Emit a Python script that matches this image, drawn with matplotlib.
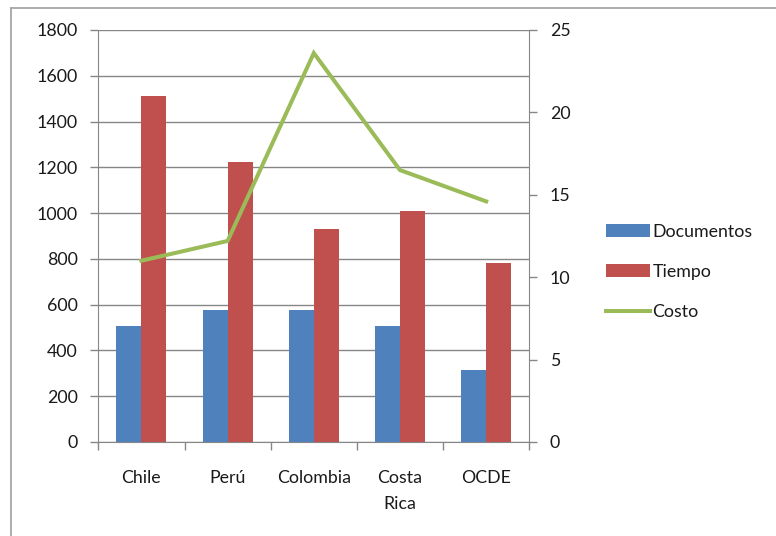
import matplotlib
matplotlib.use('Agg')
import matplotlib.pyplot as plt
from matplotlib.lines import Line2D
from matplotlib.patches import Patch
import numpy as np

plt.rcParams['font.family'] = ['Lato', 'DejaVu Sans']

paises = ['Chile', 'Perú', 'Colombia', 'Costa\nRica', 'OCDE']
documentos = [505, 576, 576, 505, 313]
tiempo = [1513, 1222, 932, 1009, 781]
costo = [11.0, 12.2, 23.6, 16.5, 14.6]

AZUL = '#4F81BD'
ROJO = '#C0504D'
VERDE = '#9BBB59'
GRIS = '#868686'
TEXTO = '#1a1a1a'
FS = 12.8

fig = plt.figure(figsize=(7.76, 5.36), dpi=100)
ax = fig.add_axes([98.3 / 776, 1 - 442 / 536, 431 / 776, 412 / 536])
ax2 = ax.twinx()

x = np.arange(len(paises))
w = 0.29
ax.bar(x - w / 2, documentos, w, color=AZUL, zorder=2)
ax.bar(x + w / 2, tiempo, w, color=ROJO, zorder=2)
ax2.plot(x, costo, color=VERDE, lw=2.9, solid_joinstyle='miter', zorder=3)

# eje izquierdo
ax.set_ylim(0, 1800)
ax.set_yticks(np.arange(0, 1801, 200))
ax.set_xlim(-0.5, 4.5)
ax.grid(axis='y', color=GRIS, lw=1.0)
ax.set_axisbelow(True)
ax.tick_params(axis='y', length=5.8, width=1, color=GRIS, pad=9,
               labelsize=FS, labelcolor=TEXTO)

# categorias: marcas en los limites, etiquetas al centro
ax.set_xticks(np.arange(-0.5, 5, 1))
ax.set_xticklabels([])
ax.set_xticks(x, minor=True)
ax.set_xticklabels(paises, minor=True, fontsize=FS, color=TEXTO,
                   linespacing=1.75, va='top')
ax.tick_params(axis='x', which='major', length=5.5, width=1, color=GRIS)
ax.tick_params(axis='x', which='minor', length=0, pad=20)

# eje derecho
ax2.set_ylim(0, 25)
ax2.set_yticks(np.arange(0, 26, 5))
ax2.tick_params(axis='y', length=5.8, width=1, color=GRIS, pad=9,
                labelsize=FS, labelcolor=TEXTO)

for a in (ax, ax2):
    for s in a.spines.values():
        s.set_visible(False)
ax.spines['left'].set_visible(True)
ax.spines['left'].set_color(GRIS)
ax.spines['bottom'].set_visible(True)
ax.spines['bottom'].set_color(GRIS)
ax2.spines['right'].set_visible(True)
ax2.spines['right'].set_color(GRIS)

handles = [Patch(facecolor=AZUL), Patch(facecolor=ROJO),
           Line2D([], [], color=VERDE, lw=2.9)]
fig.legend(handles, ['Documentos', 'Tiempo', 'Costo'],
           loc='center left', bbox_to_anchor=(590 / 776, 1 - 272 / 536),
           frameon=False, fontsize=FS, handlelength=2.5, handleheight=0.75,
           handletextpad=0.12, labelspacing=1.35, labelcolor=TEXTO)

# marco del grafico
x0, y0 = 10.5 / 776, 1 - 7.5 / 536
fig.add_artist(Line2D([x0, x0], [0, y0], transform=fig.transFigure,
                      color='#a6a6a6', lw=1.3))
fig.add_artist(Line2D([x0, 1], [y0, y0], transform=fig.transFigure,
                      color='#a6a6a6', lw=1.3))

fig.savefig('out.png', dpi=100)
